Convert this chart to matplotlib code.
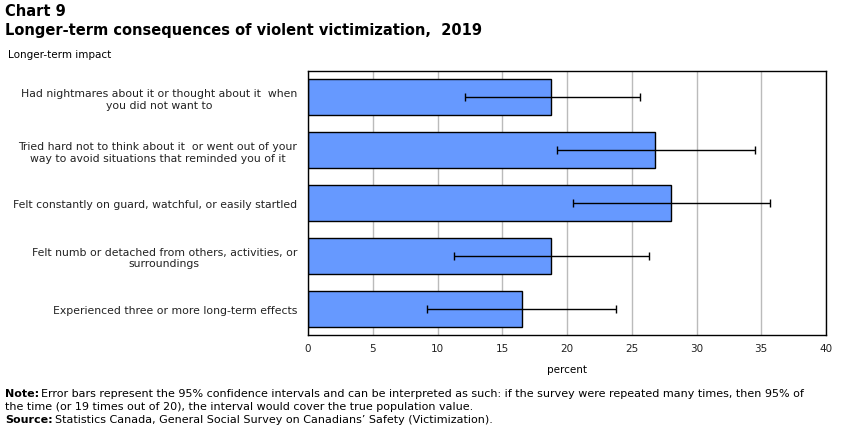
import numpy as np
import matplotlib
matplotlib.use("Agg")
import matplotlib.pyplot as plt

plt.rcParams.update({
    'font.family': 'DejaVu Sans',
})

categories = [
    "Had nightmares about it or thought about it  when\nyou did not want to",
    "Tried hard not to think about it  or went out of your\nway to avoid situations that reminded you of it",
    "Felt constantly on guard, watchful, or easily startled",
    "Felt numb or detached from others, activities, or\nsurroundings",
    "Experienced three or more long-term effects",
]
values = [18.8, 26.8, 28.0, 18.8, 16.5]
ci_low = [12.1, 19.2, 20.5, 11.3, 9.2]
ci_high = [25.6, 34.5, 35.7, 26.3, 23.8]
xticks = [0, 5, 10, 15, 20, 25, 30, 35, 40]

fig = plt.figure(figsize=(8.51, 4.27), dpi=100)
ax = fig.add_axes([308/851, 1-336/427, (826-308)/851, (336-72)/427])

y = np.arange(len(categories))
vals = np.array(values)
err = np.array([vals - np.array(ci_low), np.array(ci_high) - vals])

ax.barh(y, vals, height=0.68, color='#6699FF', edgecolor='black', linewidth=1, zorder=2)
ax.errorbar(vals, y, xerr=err, fmt='none', ecolor='black', elinewidth=1,
            capsize=3, capthick=1, zorder=3)

ax.set_xlim(0, 40)
ax.set_ylim(len(categories) - 0.5, -0.5)
ax.set_xticks(xticks)
ax.set_xticklabels([str(t) for t in xticks], fontsize=7.5, color='#222222')
ax.set_yticks(y)
ax.set_yticklabels(categories, fontsize=7.8, color='#222222', linespacing=1.2)
ax.tick_params(axis='y', length=0, pad=8)
ax.tick_params(axis='x', length=0, pad=6)
for lbl in ax.get_yticklabels():
    lbl.set_multialignment('center')
    lbl.set_horizontalalignment('right')
ax.grid(axis='x', color='#bbbbbb', linewidth=1, zorder=0)
ax.set_axisbelow(True)
for s in ax.spines.values():
    s.set_linewidth(1)
ax.set_xlabel("percent", fontsize=7.5, labelpad=8)

fig.text(5/851, 1-12/427, "Chart 9", fontsize=10.5, fontweight='bold', va='center')
fig.text(5/851, 1-30/427, "Longer-term consequences of violent victimization,  2019",
         fontsize=10.5, fontweight='bold', va='center')
fig.text(8/851, 1-55/427, "Longer-term impact", fontsize=7.5, va='center')

fig.text(5/851, 1-394/427, "Note:", fontsize=8, fontweight='bold', va='center')
fig.text(41/851, 1-394/427,
         "Error bars represent the 95% confidence intervals and can be interpreted as such: if the survey were repeated many times, then 95% of",
         fontsize=8, va='center')
fig.text(5/851, 1-407/427,
         "the time (or 19 times out of 20), the interval would cover the true population value.",
         fontsize=8, va='center')
fig.text(5/851, 1-420/427, "Source:", fontsize=8, fontweight='bold', va='center')
fig.text(55/851, 1-420/427,
         "Statistics Canada, General Social Survey on Canadians\u2019 Safety (Victimization).",
         fontsize=8, va='center')

fig.savefig("out.png", dpi=100)
